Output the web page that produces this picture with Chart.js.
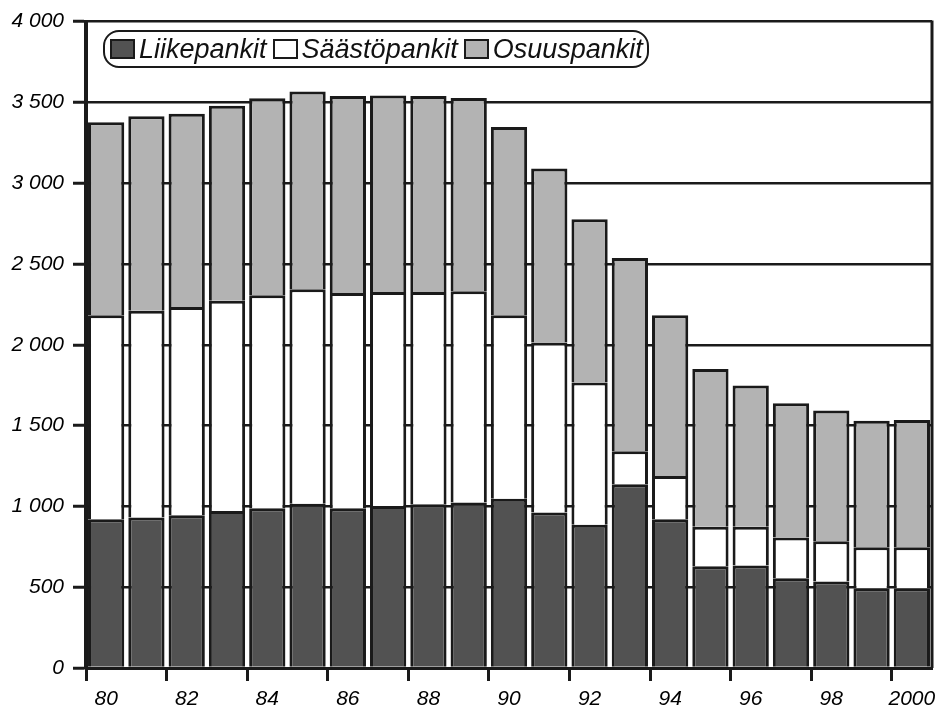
<!DOCTYPE html>
<html>
<head>
<meta charset="utf-8">
<script src="https://cdn.jsdelivr.net/npm/chart.js@4/dist/chart.umd.min.js"></script>
<style>
    body { margin: 0; background: #fff; }
    #wrap { position: relative; width: 942px; height: 711px; }
    #legend {
        position: absolute; left: 103px; top: 30px; height: 34px;
        padding: 0 4px 0 5px; display: flex; align-items: center; gap: 6px;
        border: 2.5px solid #1a1a1a; border-radius: 16px; background: #fff;
        font: italic 27px "Liberation Sans", Arial, sans-serif; color: #111;
    }
    #legend span.item { display: flex; align-items: center; gap: 4px; }
    #legend i { display: inline-block; width: 21px; height: 16px; border: 2px solid #1a1a1a; }
</style>
</head>
<body>
<div id="wrap">
    <canvas id="bankChart"></canvas>
    <div id="legend"></div>
</div>
<script>
// bank branch counts by group, 1980-2000
const years = ['80', '81', '82', '83', '84', '85', '86', '87', '88', '89', '90',
    '91', '92', '93', '94', '95', '96', '97', '98', '99', '2000'];
const seriesNames = ['Liikepankit', 'Säästöpankit', 'Osuuspankit'];
const liikepankit = [921, 931, 946, 972, 989, 1017, 989, 1003, 1013, 1024, 1048,
    962, 886, 1137, 921, 630, 634, 556, 535, 494, 494];
const saastopankit = [1262, 1280, 1288, 1301, 1317, 1326, 1331, 1323, 1313, 1307, 1135,
    1052, 880, 205, 267, 244, 240, 252, 249, 253, 253];
const osuuspankit = [1194, 1203, 1196, 1206, 1220, 1224, 1220, 1217, 1214, 1197, 1165,
    1077, 1011, 1195, 995, 976, 874, 831, 810, 783, 788];
const yTicks = [0, 500, 1000, 1500, 2000, 2500, 3000, 3500, 4000];

const fills = ['#525252', '#ffffff', '#b3b3b3'];
const ink = '#1a1a1a';
const tickFont = { family: '"Liberation Sans", Arial, sans-serif', size: 21, style: 'italic' };

// right-hand frame line of the plot area
const frameRight = {
    id: 'frameRight',
    afterDraw(chart) {
        const a = chart.chartArea, c = chart.ctx;
        c.save();
        c.strokeStyle = ink;
        c.lineWidth = 3;
        c.beginPath();
        c.moveTo(a.right, a.top - 1);
        c.lineTo(a.right, a.bottom);
        c.stroke();
        c.restore();
    }
};

const ctx = document.getElementById('bankChart').getContext('2d');
const chart = new Chart(ctx, {
    type: 'bar',
    data: {
        labels: years,
        datasets: [liikepankit, saastopankit, osuuspankit].map((d, i) => ({
            label: seriesNames[i],
            data: d,
            backgroundColor: fills[i],
            borderColor: ink,
            borderWidth: 3,
            categoryPercentage: 1,
            barPercentage: 0.9
        }))
    },
    options: {
        responsive: true,
        maintainAspectRatio: false,
        animation: false,
        layout: { padding: { top: 14, right: 10, left: 0, bottom: 0 } },
        plugins: {
            legend: { display: false },
            tooltip: { enabled: false }
        },
        scales: {
            x: {
                stacked: true,
                afterFit: s => { s.height = 43; },
                grid: {
                    drawOnChartArea: false,
                    drawTicks: true,
                    tickLength: 13,
                    tickWidth: 3,
                    tickColor: c => (c.index % 2 === 0 ? ink : 'rgba(0,0,0,0)')
                },
                border: { color: ink, width: 3 },
                ticks: {
                    autoSkip: false,
                    maxRotation: 0,
                    padding: 6,
                    color: '#000',
                    font: tickFont,
                    callback: (v, i) => (i % 2 === 0 ? years[i] : '')
                }
            },
            y: {
                stacked: true,
                min: 0,
                max: 4000,
                afterFit: s => { s.width = 86; },
                afterBuildTicks: s => { s.ticks = yTicks.map(v => ({ value: v })); },
                grid: {
                    color: ink,
                    lineWidth: 2.5,
                    tickLength: 13,
                    tickWidth: 3
                },
                border: { color: ink, width: 4 },
                ticks: {
                    padding: 9,
                    color: '#000',
                    font: tickFont,
                    callback: v => String(v).replace(/\B(?=(\d{3})+(?!\d))/g, ' ')
                }
            }
        }
    },
    plugins: [frameRight]
});

// legend box sits inside the plot, like the printed original
const legend = document.getElementById('legend');
chart.data.datasets.forEach(ds => {
    const item = document.createElement('span');
    item.className = 'item';
    const sw = document.createElement('i');
    sw.style.background = ds.backgroundColor;
    item.appendChild(sw);
    item.appendChild(document.createTextNode(ds.label));
    legend.appendChild(item);
});
</script>
</body>
</html>
